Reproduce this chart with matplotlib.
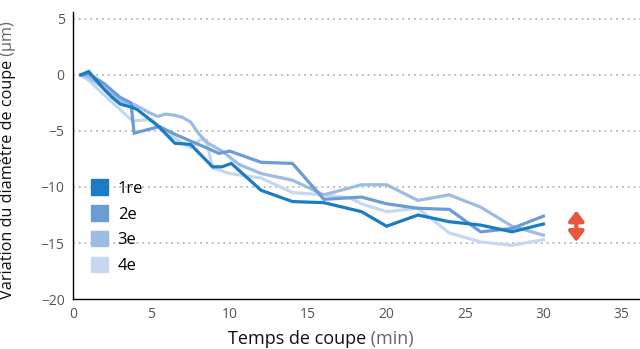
import matplotlib.pyplot as plt
from matplotlib.patches import Patch

plt.rcParams['font.family'] = ['Open Sans', 'DejaVu Sans']

# cutting-diameter drift per pass
x_1re = [0.5, 1.0, 2.0, 2.5, 3.0, 3.8, 4.1, 5.2, 5.6, 6.5, 7.5, 8.9, 9.5, 10.1,
         12.0, 14.0, 16.0, 18.4, 20.0, 22.0, 24.0, 26.0, 28.0, 30.0]
y_1re = [0.0, 0.3, -1.3, -2.0, -2.6, -2.9, -3.1, -4.3, -4.8, -6.1, -6.2, -8.2, -8.2, -7.9,
         -10.3, -11.3, -11.4, -12.2, -13.5, -12.5, -13.1, -13.4, -14.0, -13.3]

x_2e = [0.5, 1.0, 2.0, 3.0, 3.7, 3.9, 5.0, 5.5, 6.5, 8.5, 9.3, 10.0,
        12.0, 14.0, 16.0, 18.4, 20.0, 22.0, 24.0, 26.0, 28.0, 30.0]
y_2e = [0.0, 0.1, -0.8, -2.0, -2.5, -5.2, -4.8, -4.6, -5.3, -6.5, -7.0, -6.8,
        -7.8, -7.9, -11.1, -10.9, -11.5, -11.9, -12.0, -14.0, -13.7, -12.6]

x_3e = [0.5, 1.0, 2.0, 3.0, 4.0, 4.9, 5.4, 5.9, 6.5, 7.0, 7.5, 8.0, 8.5, 9.5,
        10.6, 12.0, 14.0, 16.0, 18.4, 20.0, 22.0, 24.0, 26.0, 28.0, 30.0]
y_3e = [0.0, -0.2, -1.2, -2.3, -2.7, -3.4, -3.7, -3.5, -3.6, -3.8, -4.2, -5.2, -6.0, -6.8,
        -8.0, -8.8, -9.4, -10.7, -9.8, -9.8, -11.2, -10.7, -11.8, -13.5, -14.3]

x_4e = [0.5, 1.1, 2.0, 3.0, 3.8, 5.0, 6.2, 7.5, 8.1, 8.5, 8.9, 10.0,
        12.0, 14.0, 16.0, 17.7, 18.4, 20.0, 22.0, 24.0, 26.0, 28.0, 30.0]
y_4e = [0.0, -0.6, -1.8, -3.1, -4.1, -4.0, -5.4, -6.5, -5.8, -5.8, -8.3, -8.8,
        -9.2, -10.5, -10.7, -11.0, -11.5, -12.2, -11.9, -14.1, -14.9, -15.2, -14.7]

labels = ['1re', '2e', '3e', '4e']
colors = ['#1a7cc5', '#6b9cd4', '#9dbce3', '#c6d8ef']

fig = plt.figure(figsize=(6.4, 3.49), dpi=100)
ax = fig.add_axes([0.114, 0.143, 0.886, 0.823])

series = [(x_1re, y_1re), (x_2e, y_2e), (x_3e, y_3e), (x_4e, y_4e)]
for i in range(3, -1, -1):
    xs, ys = series[i]
    ax.plot(xs, ys, color=colors[i], lw=2.3, solid_joinstyle='miter', zorder=3 + (3 - i))

for yv in [5, 0, -5, -10, -15]:
    ax.axhline(yv, color='#b5b5b5', lw=1.3, ls=(0, (1, 2.2)), zorder=1)

# tolerance arrow
ax.annotate('', xy=(32.1, -14.9), xytext=(32.1, -12.1),
            arrowprops=dict(arrowstyle='<|-|>,head_width=0.45,head_length=0.6',
                            color='#e8563f', lw=3, shrinkA=0, shrinkB=0))

ax.set_xlim(0, 36.16)
ax.set_ylim(-20, 5.62)
ax.set_xticks(range(0, 40, 5))
ax.set_yticks(range(-20, 10, 5))
ax.set_yticklabels(['\u221220', '\u221215', '\u221210', '\u22125', '0', '5'])
ax.tick_params(length=0, labelsize=10, labelcolor='#555555', pad=6)

ax.spines['right'].set_visible(False)
ax.spines['top'].set_visible(False)
ax.spines['left'].set_linewidth(1.0)
ax.spines['bottom'].set_linewidth(1.0)

handles = [Patch(color=c) for c in colors]
ax.legend(handles, labels, loc='upper left', bbox_to_anchor=(0.02, 0.44),
          frameon=False, fontsize=12, handlelength=1.0, handleheight=1.05,
          handletextpad=0.6, labelspacing=0.5, borderaxespad=0)

# axis titles with grey units
t1 = fig.text(0.572, 0.004, 'Temps de coupe', ha='right', va='bottom', fontsize=13, color='#111111')
ax.annotate(' (min)', xy=(1, 0), xycoords=t1, ha='left', va='bottom',
            fontsize=13, color='#666666')
t2 = fig.text(0.0, 0.486, 'Variation du diamètre de coupe', rotation=90,
              ha='left', va='center', fontsize=11.7, color='#111111')
ax.annotate(' (\u00b5m)', xy=(0, 1), xycoords=t2, ha='left', va='bottom', rotation=90,
            fontsize=11.7, color='#666666')

fig.savefig('out.png', dpi=100)
